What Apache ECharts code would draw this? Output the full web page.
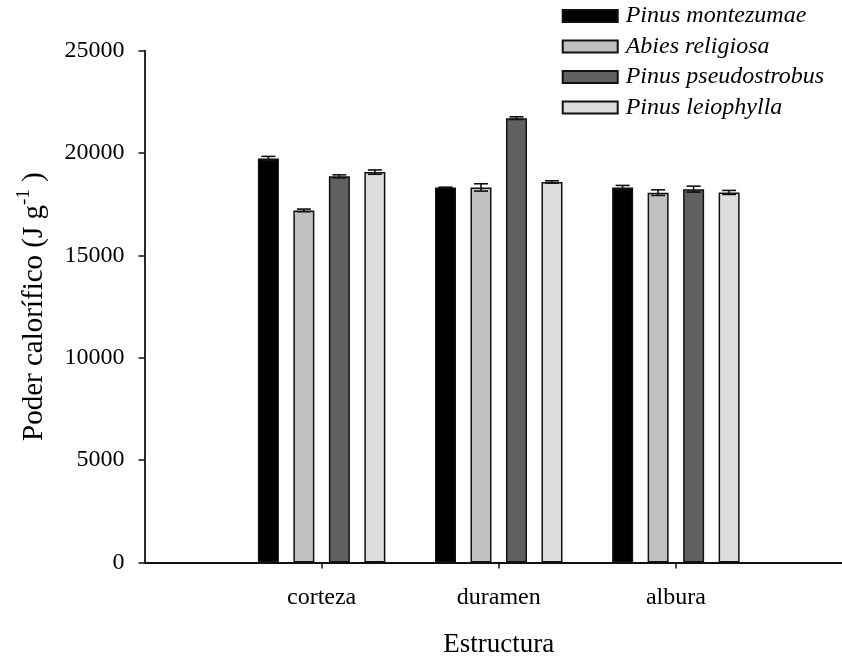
<!DOCTYPE html>
<html>
<head>
<meta charset="utf-8">
<script src="https://cdn.jsdelivr.net/npm/echarts@6/dist/echarts.min.js"></script>
<style>html,body{margin:0;padding:0;background:#fff}#c{width:842px;height:657px}</style>
</head>
<body>
<div id="c"></div>
<script>
const categories = ['corteza', 'duramen', 'albura'];
const seriesNames = ['Pinus montezumae', 'Abies religiosa', 'Pinus pseudostrobus', 'Pinus leiophylla'];
const montezumae = [19737, 18321, 18321];
const montezumaeErr = [100, 0, 98];
const religiosa = [17198, 18321, 18067];
const religiosaErr = [65, 179, 137];
const pseudostrobus = [18863, 21705, 18238];
const pseudostrobusErr = [73, 65, 146];
const leiophylla = [19070, 18589, 18077];
const leiophyllaErr = [105, 57, 98];
const yTicks = [0, 5000, 10000, 15000, 20000, 25000];

const values = [montezumae, religiosa, pseudostrobus, leiophylla];
const errors = [montezumaeErr, religiosaErr, pseudostrobusErr, leiophyllaErr];
const colors = ['#000000', '#c0c0c0', '#606060', '#dddddd'];
const BAR_W = 21, GAP = 0.69, STEP = BAR_W * (1 + GAP), CAP = 14;
const FONT = 'Liberation Serif';

const barSeries = values.map((vals, k) => ({
  name: seriesNames[k],
  type: 'bar',
  barWidth: BAR_W,
  barGap: (GAP * 100) + '%',
  itemStyle: { color: colors[k], borderColor: '#111', borderWidth: 1.5 },
  data: vals.map((v, i) => [i + 1, v]),
  z: 2
}));

const errData = [];
values.forEach((vals, k) => vals.forEach((v, i) => errData.push([i + 1, v, errors[k][i], k])));

const errSeries = {
  type: 'custom',
  z: 5,
  silent: true,
  data: errData,
  renderItem: function (params, api) {
    const x = api.value(0), v = api.value(1), e = api.value(2), k = api.value(3);
    const top = api.coord([x, v + e]);
    const bot = api.coord([x, v - e]);
    const cx = top[0] + (k - 1.5) * STEP;
    const st = { stroke: '#111', lineWidth: 1.6 };
    return {
      type: 'group',
      children: [
        { type: 'line', shape: { x1: cx, y1: top[1], x2: cx, y2: bot[1] }, style: st },
        { type: 'line', shape: { x1: cx - CAP / 2, y1: top[1], x2: cx + CAP / 2, y2: top[1] }, style: st },
        { type: 'line', shape: { x1: cx - CAP / 2, y1: bot[1], x2: cx + CAP / 2, y2: bot[1] }, style: st }
      ]
    };
  }
};

const chart = echarts.init(document.getElementById('c'), null, { renderer: 'canvas' });
chart.setOption({
  animation: false,
  backgroundColor: '#fff',
  textStyle: { fontFamily: FONT, color: '#000' },
  grid: { left: 144.5, right: -11, top: 50.7, bottom: 94.5, containLabel: false, outerBoundsMode: 'none' },
  legend: {
    orient: 'vertical',
    left: 556.7,
    top: -1,
    itemWidth: 55,
    itemHeight: 12,
    itemGap: 6.5,
    icon: 'rect',
    data: seriesNames,
    textStyle: { fontFamily: FONT, fontStyle: 'italic', fontSize: 24, lineHeight: 24, color: '#000', padding: [0, 0, 0, 3] }
  },
  xAxis: {
    type: 'value',
    min: 0,
    max: 4,
    interval: 1,
    splitLine: { show: false },
    axisLine: { lineStyle: { color: '#111', width: 1.8 } },
    axisTick: { show: true, inside: false, length: 6, customValues: [1, 2, 3], lineStyle: { color: '#111', width: 1.5 } },
    axisLabel: {
      customValues: [1, 2, 3],
      formatter: v => categories[Math.round(v) - 1] || '',
      fontFamily: FONT, fontSize: 24, color: '#000', margin: 23
    },
    name: 'Estructura',
    nameLocation: 'middle',
    nameGap: 69,
    nameTextStyle: { fontFamily: FONT, fontSize: 27, color: '#000' }
  },
  yAxis: {
    type: 'value',
    min: 0,
    max: 25000,
    interval: 5000,
    splitLine: { show: false },
    axisLine: { show: true, lineStyle: { color: '#111', width: 1.8 } },
    axisTick: { show: true, inside: false, length: 6, lineStyle: { color: '#111', width: 1.5 } },
    axisLabel: {
      customValues: yTicks,
      formatter: v => String(v),
      fontFamily: FONT, fontSize: 24, color: '#000', margin: 20
    },
    name: '{a|Poder calorífico (J g}{s|-1}{a| )}',
    nameLocation: 'middle',
    nameRotate: 90,
    nameGap: 96,
    nameTextStyle: {
      fontFamily: FONT, fontSize: 29, color: '#000',
      rich: {
        a: { fontFamily: FONT, fontSize: 29, lineHeight: 34, verticalAlign: 'bottom', color: '#000' },
        s: { fontFamily: FONT, fontSize: 19, lineHeight: 19, verticalAlign: 'top', color: '#000' }
      }
    }
  },
  series: barSeries.concat([errSeries])
});
</script>
</body>
</html>
